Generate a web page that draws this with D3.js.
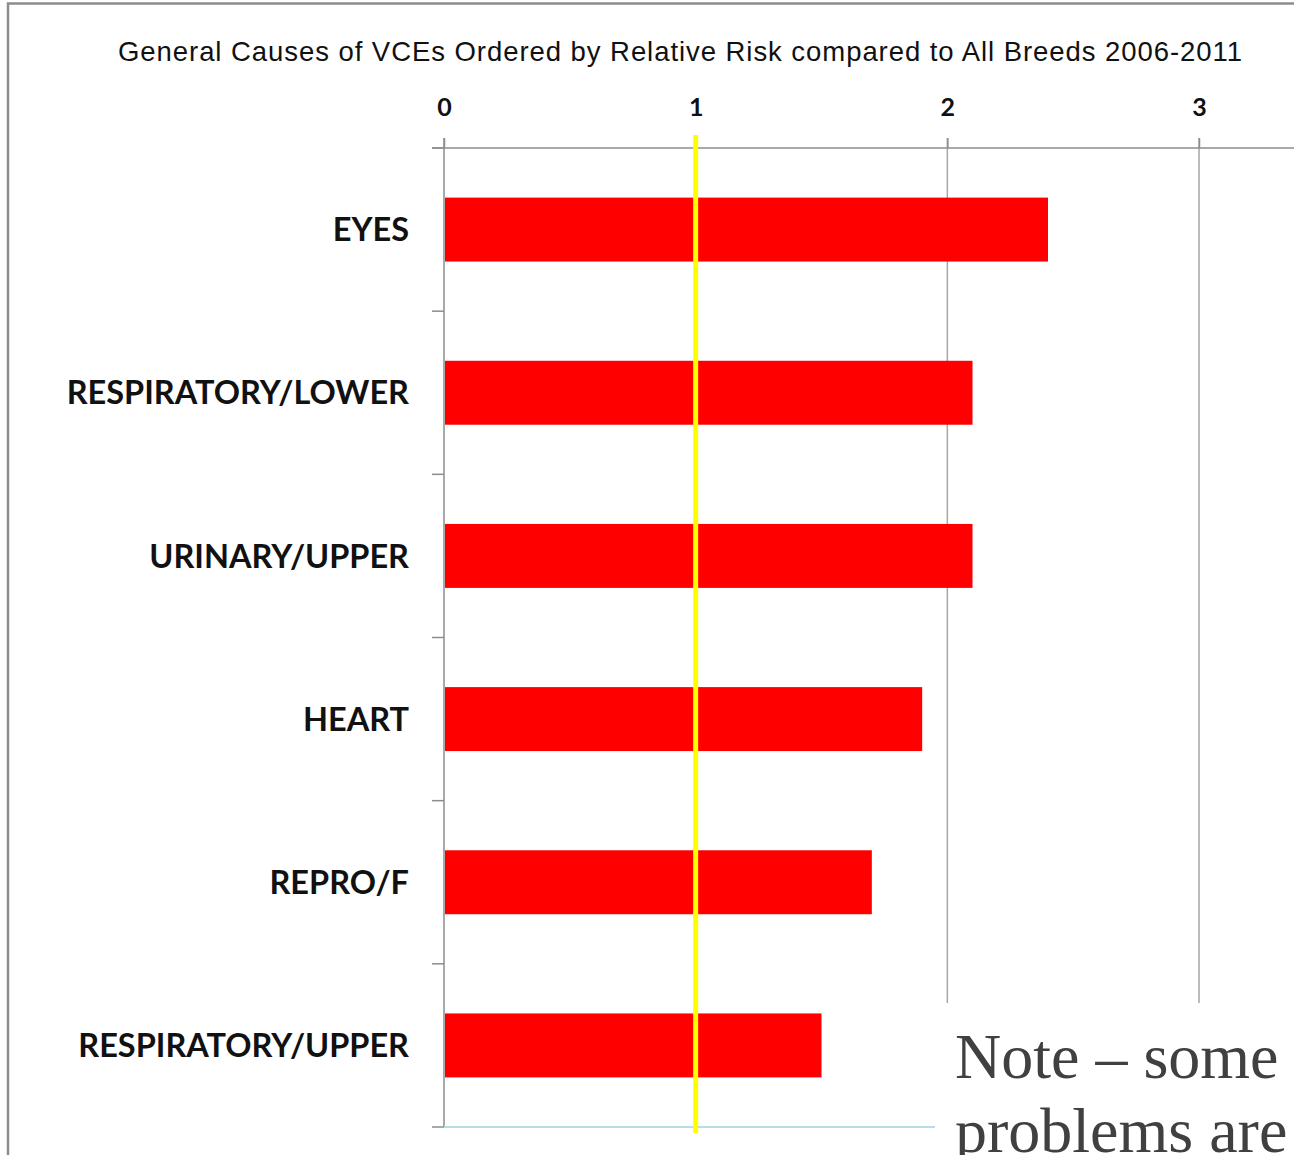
<!DOCTYPE html>
<html><head><meta charset="utf-8">
<script src="https://cdn.jsdelivr.net/npm/d3@7"></script>
<style>body{margin:0;background:#fff;}svg{display:block;}</style>
</head><body>
<script>
const title = "General Causes of VCEs Ordered by Relative Risk compared to All Breeds 2006-2011";
const categories = ["EYES","RESPIRATORY/LOWER","URINARY/UPPER","HEART","REPRO/F","RESPIRATORY/UPPER"];
const values = [2.4, 2.1, 2.1, 1.9, 1.7, 1.5];
const tickValues = [0, 1, 2, 3];
const referenceValue = 1;
const noteLines = ["Note – some", "problems are"];

const W = 1294, H = 1155;
const svg = d3.select("body").append("svg").attr("width", W).attr("height", H);

// frame
svg.append("path").attr("d", `M8,${H} L8,3.5 L${W},3.5`).attr("fill","none").attr("stroke","#8c8c8c").attr("stroke-width",2.5);

const x = d3.scaleLinear().domain([0,3]).range([444,1199]);
const y = d3.scaleBand().domain(categories).range([148,1127]).paddingInner(0.608).paddingOuter(0.304);

// title
svg.append("text").attr("x",118).attr("y",61)
  .attr("textLength",1124).attr("lengthAdjust","spacing")
  .attr("font-family","Liberation Sans, Arial, sans-serif").attr("font-size",27.5).attr("fill","#111")
  .text(title);

// gridlines
svg.append("g").selectAll("line").data(tickValues.filter(d=>d>0)).join("line")
  .attr("x1",d=>x(d)).attr("x2",d=>x(d)).attr("y1",138).attr("y2",1127)
  .attr("stroke","#a6a6a6").attr("stroke-width",1.5);

// top axis
const xAxis = d3.axisTop(x).tickValues(tickValues).tickSize(10).tickPadding(22).tickFormat(d3.format("d"));
const gx = svg.append("g").attr("transform","translate(0,148)").call(xAxis);
gx.select(".domain").remove();
gx.selectAll(".tick line").attr("stroke","#8c8c8c").attr("stroke-width",1.5);
gx.selectAll(".tick text").attr("font-family","Lato, Carlito, sans-serif").attr("font-weight","bold")
  .attr("font-size",25).attr("fill","#111");
svg.append("line").attr("x1",x(0)-12).attr("x2",W).attr("y1",148).attr("y2",148)
  .attr("stroke","#8c8c8c").attr("stroke-width",1.5);

// left axis
svg.append("line").attr("x1",x(0)).attr("x2",x(0)).attr("y1",138).attr("y2",1127)
  .attr("stroke","#8c8c8c").attr("stroke-width",1.5);
const boundaries = d3.range(categories.length+1).map(i => y.range()[0] + i*y.step());
svg.append("g").selectAll("line").data(boundaries).join("line")
  .attr("x1",x(0)-12).attr("x2",x(0)).attr("y1",d=>d).attr("y2",d=>d)
  .attr("stroke","#8c8c8c").attr("stroke-width",1.5);

// bars
svg.append("g").selectAll("rect").data(categories).join("rect")
  .attr("x",x(0)+1).attr("y",d=>y(d)).attr("width",(d,i)=>x(values[i])-x(0)-1).attr("height",y.bandwidth())
  .attr("fill","#ff0000");

// category labels
svg.append("g").selectAll("text").data(categories).join("text")
  .attr("x",409).attr("y",d=>y(d)+y.bandwidth()/2).attr("dy","0.36em").attr("text-anchor","end")
  .attr("font-family","Lato, Carlito, sans-serif").attr("font-weight","bold").attr("font-size",32.5).attr("fill","#111")
  .text(d=>d);

// bottom baseline (light blue)
svg.append("line").attr("x1",x(0)).attr("x2",935).attr("y1",1127).attr("y2",1127)
  .attr("stroke","#b7dde8").attr("stroke-width",2);

// reference line
svg.append("line").attr("x1",x(referenceValue)).attr("x2",x(referenceValue)).attr("y1",135).attr("y2",1133)
  .attr("stroke","#ffff00").attr("stroke-width",5);

// note box
svg.append("rect").attr("x",935).attr("y",1003).attr("width",W-935).attr("height",H-1003).attr("fill","#fff");
svg.append("g").selectAll("text").data(noteLines).join("text")
  .attr("x",955).attr("y",(d,i)=>1078+i*74)
  .attr("font-family","Liberation Serif, Times New Roman, serif").attr("font-size",64).attr("fill","#404040")
  .text(d=>d);
</script>
</body></html>
